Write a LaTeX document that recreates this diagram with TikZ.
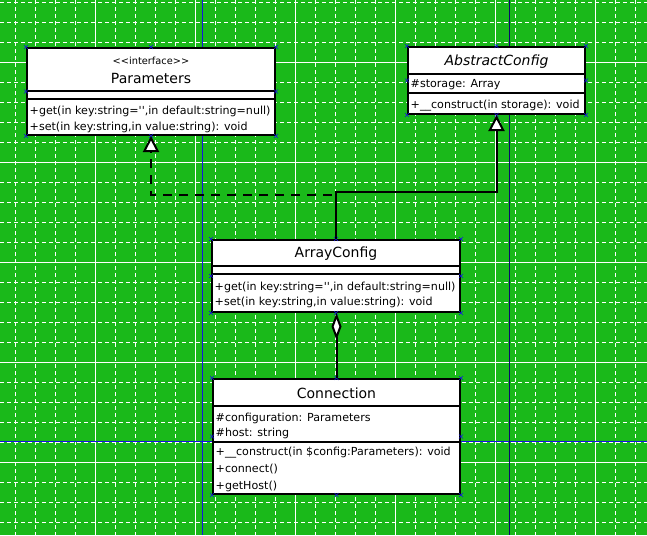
\documentclass[tikz,border=0pt]{standalone}
\usepackage{fontspec}
\setmainfont{DejaVu Sans}
\usepackage{tikz}
\usetikzlibrary{positioning}
\usetikzlibrary{calc}
\usetikzlibrary{arrows.meta}

\definecolor{sheetgreen}{RGB}{26,185,26}
\definecolor{guideblue}{RGB}{20,20,225}
\definecolor{guidenavy}{RGB}{10,10,110}

\tikzset{
    classbox/.style={draw=black, line width=2pt, fill=white, inner sep=0pt, anchor=north west},
    classsep/.style={draw=black, line width=2pt},
    classname/.style={inner sep=0pt, font=\fontsize{14}{16}\selectfont},
    stereotype/.style={inner sep=0pt, font=\fontsize{9.8}{12}\selectfont},
    member/.style={inner sep=0pt, anchor=west, font=\fontsize{11.1}{13}\selectfont},
    realize/.style={line width=2pt, dash pattern=on 9pt off 7pt, -{Triangle[fill=white, length=16pt, width=16pt]}},
    inherit/.style={line width=2pt, -{Triangle[fill=white, length=16pt, width=16pt]}},
    aggregate/.style={line width=2pt, -{Diamond[fill=white, length=27pt, width=10pt]}},
    minorgrid/.style={white, line width=0.8pt, dash pattern=on 4pt off 3pt},
    majorgrid/.style={white, line width=0.8pt},
    handlemark/.style={draw=guideblue, line width=0.6pt},
}

\begin{document}
\begin{tikzpicture}[x=1pt, y=-1pt]

    \useasboundingbox (0,0) rectangle (647,535);
    \fill[sheetgreen] (0,0) rectangle (647,535);

    \foreach \x in {15,35,...,635} \draw[minorgrid] (\x,0) -- (\x,535);
    \foreach \y in {2,22,...,522} \draw[minorgrid] (0,\y) -- (647,\y);
    \foreach \x in {95,195,...,595} \draw[majorgrid] (\x,0) -- (\x,535);
    \foreach \y in {62,162,...,462} \draw[majorgrid] (0,\y) -- (647,\y);

    \draw[guideblue, line width=0.8pt] (202,0) -- (202,535);
    \draw[guideblue, line width=0.8pt] (0,441) -- (647,441);
    \draw[guidenavy, line width=0.8pt] (509,0) -- (509,535);

    % Parameters
    \node[classbox, minimum width=248pt, minimum height=87pt] (params) at (26,47) {};
    \node[stereotype] (params-stereo) at ($(params.north)+(0,14)$) {\textless\kern0pt\textless interface\textgreater\kern0pt\textgreater};
    \node[classname] (params-name) at ($(params.north)+(0,31)$) {Parameters};
    \draw[classsep] ($(params.north west)+(0,44)$) -- ($(params.north east)+(0,44)$);
    \draw[classsep] ($(params.north west)+(0,52)$) -- ($(params.north east)+(0,52)$);
    \node[member] (params-get) at ($(params.north west)+(3.5,64)$) {+get(in key:string=\textquotesingle\textquotesingle,in default:string=null)};
    \node[member] (params-set) at ($(params.north west)+(3.5,80)$) {+set(in key:string,in value:string): void};

    % AbstractConfig
    \node[classbox, minimum width=177pt, minimum height=67pt] (abscfg) at (407,46) {};
    \node[classname, font=\fontsize{14}{16}\selectfont\itshape] (abscfg-name) at ($(abscfg.north)+(0,16)$) {AbstractConfig};
    \draw[classsep] ($(abscfg.north west)+(0,28)$) -- ($(abscfg.north east)+(0,28)$);
    \draw[classsep] ($(abscfg.north west)+(0,47)$) -- ($(abscfg.north east)+(0,47)$);
    \node[member] (abscfg-storage) at ($(abscfg.north west)+(3.5,39)$) {\#storage: Array};
    \node[member] (abscfg-construct) at ($(abscfg.north west)+(3.5,60)$) {+\_\_construct(in storage): void};

    % ArrayConfig
    \node[classbox, minimum width=248pt, minimum height=72pt] (arrcfg) at (211,239) {};
    \node[classname] (arrcfg-name) at ($(arrcfg.north)+(0,15)$) {ArrayConfig};
    \draw[classsep] ($(arrcfg.north west)+(0,27)$) -- ($(arrcfg.north east)+(0,27)$);
    \draw[classsep] ($(arrcfg.north west)+(0,35)$) -- ($(arrcfg.north east)+(0,35)$);
    \node[member] (arrcfg-get) at ($(arrcfg.north west)+(3.5,48)$) {+get(in key:string=\textquotesingle\textquotesingle,in default:string=null)};
    \node[member] (arrcfg-set) at ($(arrcfg.north west)+(3.5,63)$) {+set(in key:string,in value:string): void};

    % Connection
    \node[classbox, minimum width=247pt, minimum height=115pt] (conn) at (212,378) {};
    \node[classname] (conn-name) at ($(conn.north)+(0,15)$) {Connection};
    \draw[classsep] ($(conn.north west)+(0,28)$) -- ($(conn.north east)+(0,28)$);
    \draw[classsep] ($(conn.north west)+(0,64)$) -- ($(conn.north east)+(0,64)$);
    \node[member] (conn-config) at ($(conn.north west)+(3.5,40)$) {\#configuration: Parameters};
    \node[member] (conn-host) at ($(conn.north west)+(3.5,55)$) {\#host: string};
    \node[member] (conn-construct) at ($(conn.north west)+(3.5,75)$) {+\_\_construct(in \$config:Parameters): void};
    \node[member] (conn-connect) at ($(conn.north west)+(3.5,91)$) {+connect()};
    \node[member] (conn-gethost) at ($(conn.north west)+(3.5,108)$) {+getHost()};

    \foreach \cls in {params,abscfg,arrcfg,conn}
        \foreach \anc in {north west,north,north east,east,south east,south,south west,west}
            \draw[handlemark] (\cls.\anc) +(-2,-2) -- +(2,2) +(-2,2) -- +(2,-2);

    \draw[realize] (arrcfg.north) -- ++(0,-44) -| (params.south);
    \draw[inherit] (arrcfg.north) -- ++(0,-47) -| (abscfg.south);
    \draw[aggregate] (conn.north) -- (conn.north |- arrcfg.south);

\end{tikzpicture}
\end{document}
